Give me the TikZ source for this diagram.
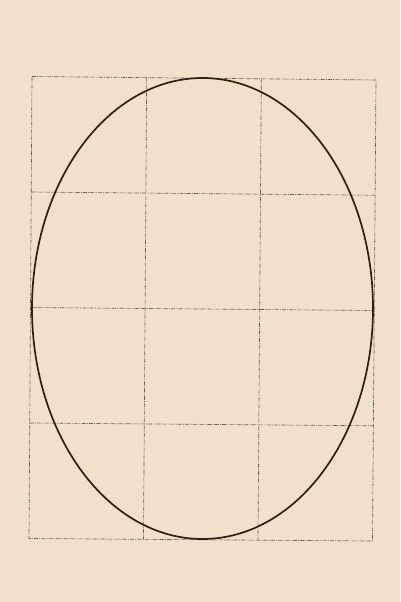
\documentclass[tikz,border=0pt]{standalone}
\usetikzlibrary{calc}
\definecolor{paper}{RGB}{243,224,202}
\definecolor{gridc}{RGB}{105,95,85}
\definecolor{ink}{RGB}{45,32,22}
\begin{document}
\begin{tikzpicture}[x=1pt,y=-1pt,
  gridline/.style={draw=gridc,line width=0.65pt,dash pattern=on 4pt off 1.2pt on 1pt off 1.2pt},
  outline/.style={draw=ink,line width=1.7pt}]
\fill[paper] (0,0) rectangle (400,602);
\useasboundingbox (0,0) rectangle (400,602);
\coordinate (TL) at (32,76.5);
\coordinate (TR) at (376,80);
\coordinate (BL) at (29,538.5);
\coordinate (BR) at (372.5,541);
% border
\draw[gridline] (TL) -- (TR) -- (BR) -- (BL) -- cycle;
% vertical lines
\foreach \k in {1,2}{
  \draw[gridline] ($(TL)!\k/3!(TR)$) -- ($(BL)!\k/3!(BR)$);
}
% horizontal lines
\foreach \k in {1,2,3}{
  \draw[gridline] ($(TL)!\k/4!(BL)$) -- ($(TR)!\k/4!(BR)$);
}
\coordinate (C) at (202.5,308.5);
\draw[outline] (C) ellipse [x radius=170.5, y radius=230.5];
\end{tikzpicture}
\end{document}
